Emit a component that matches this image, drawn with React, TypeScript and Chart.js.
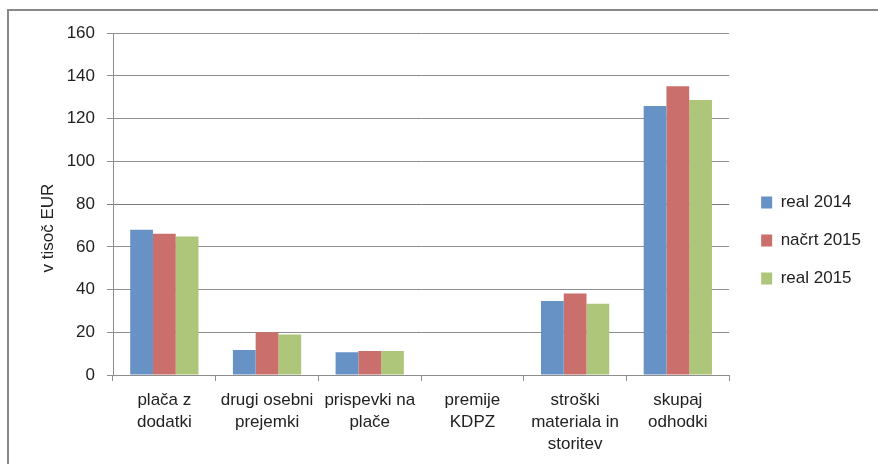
import React, { useEffect, useRef } from "react";
import { Chart, registerables } from "chart.js";

Chart.register(...registerables);

const categories: string[][] = [
  ["plača z", "dodatki"],
  ["drugi osebni", "prejemki"],
  ["prispevki na", "plače"],
  ["premije", "KDPZ"],
  ["stroški", "materiala in", "storitev"],
  ["skupaj", "odhodki"],
];
const seriesNames = ["real 2014", "načrt 2015", "real 2015"];
const real2014 = [68, 11.7, 10.7, 0, 34.6, 125.9];
const nacrt2015 = [66.1, 20, 11.2, 0, 38.2, 135.2];
const real2015 = [64.8, 19, 11.2, 0, 33.3, 128.7];
const yTitle = "v tisoč EUR";
const yMin = 0;
const yMax = 160;
const yStep = 20;

const COLORS = ["#6792c6", "#cb6f6d", "#adc679"];
const FONT = "'Liberation Sans', Arial, sans-serif";
const TEXT = "#222222";
const GRID = "#8e8e8e";

const shiftLegend = {
  id: "shiftLegend",
  afterLayout(chart: any) {
    const l = chart.legend;
    if (!l) return;
    l.left += 11;
    l.right += 11;
    l.top -= 8;
    l.bottom -= 8;
  },
};

const axisTitle = {
  id: "axisTitle",
  afterDraw(chart: any) {
    const { ctx, chartArea } = chart;
    ctx.save();
    ctx.translate(chartArea.left - 65, (chartArea.top + chartArea.bottom) / 2 + 24);
    ctx.rotate(-Math.PI / 2);
    ctx.font = `17px ${FONT}`;
    ctx.fillStyle = TEXT;
    ctx.textAlign = "center";
    ctx.textBaseline = "middle";
    ctx.fillText(yTitle, 0, 0);
    ctx.restore();
  },
};

export default function App() {
  const ref = useRef<HTMLCanvasElement | null>(null);
  useEffect(() => {
    if (!ref.current) return;
    const chart = new Chart(ref.current, {
      type: "bar",
      data: {
        labels: categories,
        datasets: [real2014, nacrt2015, real2015].map((d, i) => ({
          label: seriesNames[i],
          data: d,
          backgroundColor: COLORS[i],
          borderWidth: 0,
          categoryPercentage: 0.665,
          barPercentage: 1.0,
        })),
      },
      options: {
        responsive: false,
        animation: false,
        layout: { padding: { top: 22, right: 18, bottom: 0, left: 0 } },
        plugins: {
          tooltip: { enabled: false },
          legend: {
            position: "right",
            align: "center",
            labels: {
              boxWidth: 11,
              boxHeight: 12,
              padding: 21,
              color: TEXT,
              font: { family: FONT, size: 17 },
            },
          },
        },
        scales: {
          x: {
            grid: {
              drawOnChartArea: false,
              drawTicks: true,
              tickLength: 6,
              color: GRID,
            },
            border: { color: GRID, width: 1 },
            ticks: {
              color: TEXT,
              font: { family: FONT, size: 17, lineHeight: 1.294 },
              padding: 8,
              maxRotation: 0,
              autoSkip: false,
            },
            afterFit: (s: any) => {
              s.height = 89;
            },
          },
          y: {
            min: yMin,
            max: yMax,
            grid: {
              color: (c: any) => (c.tick && c.tick.value === 80 ? "#7a7a7a" : GRID),
              tickLength: 6,
            },
            border: { color: GRID, width: 1 },
            ticks: {
              stepSize: yStep,
              color: TEXT,
              font: { family: FONT, size: 17 },
              padding: 12,
            },
            afterFit: (s: any) => {
              s.width = 104;
            },
          },
        },
      },
      plugins: [shiftLegend, axisTitle],
    });
    return () => chart.destroy();
  }, []);

  return (
    <div
      style={{
        position: "absolute",
        left: 7,
        top: 9,
        width: 871,
        height: 455,
        boxSizing: "border-box",
        borderLeft: "2px solid #898989",
        borderTop: "2px solid #898989",
        background: "#fff",
        overflow: "hidden",
      }}
    >
      <canvas ref={ref} width={869} height={453} style={{ display: "block" }} />
    </div>
  );
}
